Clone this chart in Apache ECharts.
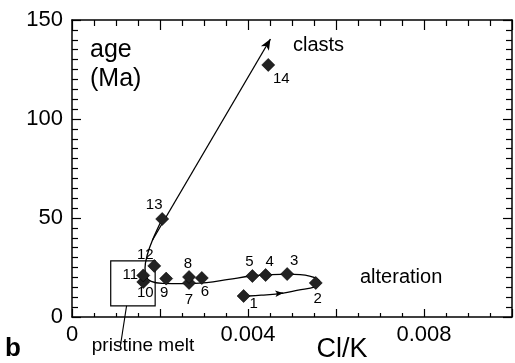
<!DOCTYPE html>
<html>
<head>
<meta charset="utf-8">
<script src="https://cdn.jsdelivr.net/npm/echarts@6/dist/echarts.min.js"></script>
<style>
html,body{margin:0;padding:0;background:#fff;}
#c{width:515px;height:363px;}
</style>
</head>
<body>
<div id="c"></div>
<script>
// ---- data ----
var pointNames = ['1','2','3','4','5','6','7','8','9','10','11','12','13','14'];
var clK = [0.0039, 0.00554, 0.00489, 0.0044, 0.0041, 0.00295, 0.00266, 0.00266, 0.00214, 0.00162, 0.00162, 0.00187, 0.00205, 0.00446];
var ageMa = [10.6, 17.2, 21.7, 21.2, 20.7, 19.7, 17.2, 20.2, 19.4, 17.7, 21.0, 25.8, 49.5, 127.3];
var xTicks = [0, 0.004, 0.008];
var yTicks = [0, 50, 100, 150];
// trend curve (alteration loop) in data units
var curveX = [0.00205, 0.00183, 0.00171, 0.00166, 0.00168, 0.00180, 0.00205, 0.00255, 0.00306, 0.00356, 0.00408, 0.00439, 0.00491, 0.00540, 0.00563, 0.00552, 0.00514, 0.00480, 0.00430, 0.00401];
var curveY = [49.5, 38.9, 31.3, 24.7, 20.7, 18.0, 17.0, 16.9, 17.4, 19.0, 20.7, 21.2, 21.7, 20.7, 17.7, 15.2, 13.6, 12.1, 11.0, 10.6];
// clasts arrow
var clastsFrom = [0.00183, 38.9];
var clastsTo = [0.00451, 140.4];
// small arrow on lower loop
var loopArrowFrom = [0.00465, 11.8];
var loopArrowTo = [0.00480, 12.1];
// pristine melt box
var boxMin = [0.00088, 5.6];
var boxMax = [0.00189, 28.3];
var leaderFrom = [0.00124, 5.6];
var leaderTo = [0.0011, -14.6];

// ---- styles (label offsets in px) ----
var labelOffsets = [[10,8],[2,16],[7,-13],[4,-13],[-3,-14],[3,14],[0,17],[-1,-13],[-2,14],[2,11],[-13,-1],[-9,-11],[-8,-14],[13,14]];

var FONT = '"Liberation Sans", Arial, Helvetica, sans-serif';
var chart = echarts.init(document.getElementById('c'));

var pts = clK.map(function(x, i){
  return {
    value: [x, ageMa[i]],
    name: pointNames[i],
    label: {show: true, position: 'inside', offset: labelOffsets[i], formatter: pointNames[i],
            fontSize: 15, fontFamily: FONT, color: '#000', textBorderWidth: 0, textShadowBlur: 0, opacity: 1}
  };
});
var curve = curveX.map(function(x, i){ return [x, curveY[i]]; });

var axisCommon = {
  type: 'value',
  axisLine: {show: true, onZero: false, lineStyle: {color: '#000', width: 1.5}},
  splitLine: {show: false},
  axisTick: {show: true, inside: true, lineStyle: {color: '#000', width: 1.2}},
  minorTick: {show: true, lineStyle: {color: '#000', width: 1.2}},
  minorSplitLine: {show: false}
};
function ax(extra){ return Object.assign({}, JSON.parse(JSON.stringify(axisCommon)), extra); }

chart.setOption({
  animation: false,
  backgroundColor: '#fff',
  grid: {left: 72, top: 20, width: 444, height: 297, containLabel: false},
  xAxis: [
    ax({min: 0, max: 0.01, interval: 0.002, position: 'bottom',
        axisTick: {show: true, inside: true, length: 8, lineStyle: {color: '#000', width: 1.2}},
        minorTick: {show: true, splitNumber: 4, length: 4, lineStyle: {color: '#000', width: 1.2}},
        axisLabel: {show: true, margin: 7, fontSize: 22, fontFamily: FONT, color: '#000',
          formatter: function(v){
            for (var i = 0; i < xTicks.length; i++) { if (Math.abs(v - xTicks[i]) < 1e-9) return String(xTicks[i]); }
            return '';
          }}}),
    ax({min: 0, max: 0.01, interval: 0.002, position: 'top',
        axisTick: {show: true, inside: true, length: 10, lineStyle: {color: '#000', width: 1.2}},
        minorTick: {show: true, splitNumber: 4, length: 6, lineStyle: {color: '#000', width: 1.2}},
        axisLabel: {show: false}})
  ],
  yAxis: [
    ax({min: 0, max: 150, interval: 50, position: 'left',
        axisTick: {show: true, inside: true, length: 9, lineStyle: {color: '#000', width: 1.2}},
        minorTick: {show: true, splitNumber: 10, length: 6, lineStyle: {color: '#000', width: 1.2}},
        axisLabel: {show: true, margin: 9, fontSize: 22, fontFamily: FONT, color: '#000',
          formatter: function(v){ return yTicks.indexOf(Math.round(v)) >= 0 ? String(Math.round(v)) : ''; }}}),
    ax({min: 0, max: 150, interval: 50, position: 'right',
        axisTick: {show: true, inside: true, length: 9, lineStyle: {color: '#000', width: 1.2}},
        minorTick: {show: true, splitNumber: 10, length: 6, lineStyle: {color: '#000', width: 1.2}},
        axisLabel: {show: false}})
  ],
  series: [
    {
      type: 'line', xAxisIndex: 0, yAxisIndex: 0, data: curve, smooth: 0.4,
      showSymbol: false, symbol: 'none', clip: false,
      lineStyle: {color: '#000', width: 1.3},
      markLine: {
        silent: true, symbol: ['none', 'arrow'], symbolSize: [7, 11], label: {show: false},
        lineStyle: {color: '#000', width: 1.3, type: 'solid'},
        data: [
          [{coord: clastsFrom}, {coord: clastsTo}],
          [{coord: loopArrowFrom, symbolSize: [5, 8]}, {coord: loopArrowTo, symbolSize: [5, 8]}]
        ]
      },
      markArea: {
        silent: true,
        itemStyle: {color: 'rgba(0,0,0,0)', borderColor: '#000', borderWidth: 1.2},
        data: [[{coord: boxMin}, {coord: boxMax}]]
      }
    },
    {
      type: 'scatter', xAxisIndex: 0, yAxisIndex: 0, data: pts,
      symbol: 'diamond', symbolSize: 13, z: 5,
      itemStyle: {color: '#222', borderColor: '#000', borderWidth: 0.6, opacity: 1}
    }
  ],
  graphic: []
});

var p1 = chart.convertToPixel({gridIndex: 0}, leaderFrom);
var p2 = chart.convertToPixel({gridIndex: 0}, leaderTo);
chart.setOption({
  graphic: [
    {type: 'line', shape: {x1: p1[0], y1: p1[1], x2: p2[0], y2: p2[1]}, style: {stroke: '#000', lineWidth: 1.1}},
    {type: 'text', left: 90, top: 38, style: {text: 'age', fontSize: 25, fontFamily: FONT, fill: '#000'}},
    {type: 'text', left: 90, top: 67, style: {text: '(Ma)', fontSize: 25, fontFamily: FONT, fill: '#000'}},
    {type: 'text', left: 293, top: 35, style: {text: 'clasts', fontSize: 20, fontFamily: FONT, fill: '#000'}},
    {type: 'text', left: 360, top: 267, style: {text: 'alteration', fontSize: 20, fontFamily: FONT, fill: '#000'}},
    {type: 'text', x: 143, y: 346, style: {text: 'pristine melt', fontSize: 19, fontFamily: FONT, fill: '#000', align: 'center', verticalAlign: 'middle'}},
    {type: 'text', x: 342, y: 350, style: {text: 'Cl/K', fontSize: 27, fontFamily: FONT, fill: '#000', align: 'center', verticalAlign: 'middle'}},
    {type: 'text', x: 5, y: 349, style: {text: 'b', fontSize: 26, fontWeight: 'bold', fontFamily: FONT, fill: '#000', align: 'left', verticalAlign: 'middle'}}
  ]
});
</script>
</body>
</html>
